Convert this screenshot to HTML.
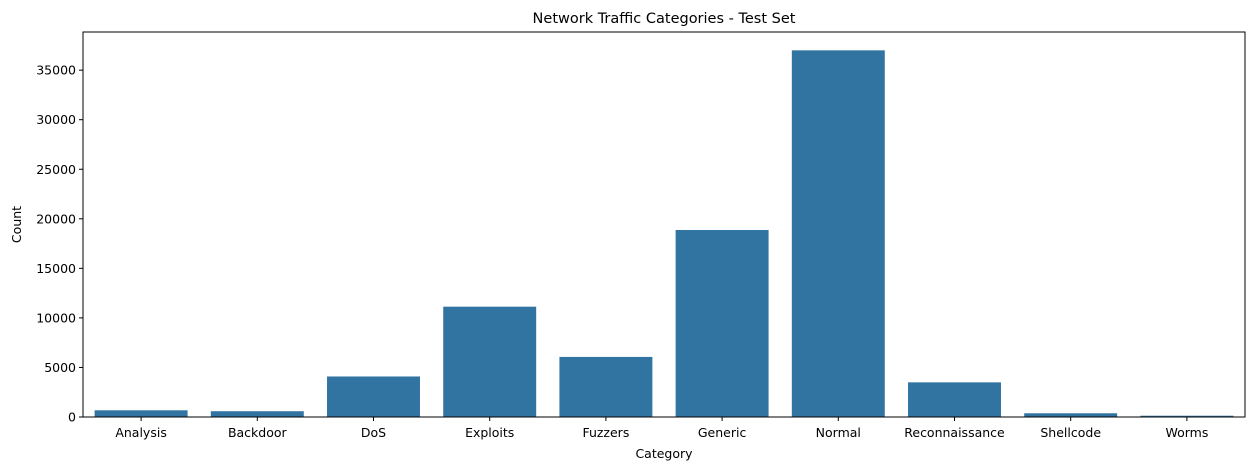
<!DOCTYPE html>
<html><head><meta charset="utf-8">
<style>
body{margin:0;background:#fff;}
svg text{font-family:"DejaVu Sans","Liberation Sans",sans-serif;fill:#000;}
</style></head>
<body>
<svg id="chart" width="1255" height="470" xmlns="http://www.w3.org/2000/svg">
<text x="664" y="23" font-size="14.5" text-anchor="middle">Network Traffic Categories - Test Set</text>
<g id="bars"></g>
<g id="axes"></g>
<text x="664" y="458" font-size="12.5" text-anchor="middle">Category</text>
<text transform="translate(21,224.5) rotate(-90)" font-size="12.5" text-anchor="middle">Count</text>
</svg>
<script>
const categories=["Analysis","Backdoor","DoS","Exploits","Fuzzers","Generic","Normal","Reconnaissance","Shellcode","Worms"];
const counts=[677,583,4089,11132,6062,18871,37000,3496,378,130];
const yTicks=[0,5000,10000,15000,20000,25000,30000,35000];
const L=83,R=1245,T=32,B=417;
const ymax=Math.max(...counts)*1.05;
const ns="http://www.w3.org/2000/svg";
const step=(R-L)/categories.length;
function xc(i){return L+step*(i+0.5);}
function y(v){return B-(v/ymax)*(B-T);}
function mk(tag,attrs,parent){const e=document.createElementNS(ns,tag);for(const k in attrs)e.setAttribute(k,attrs[k]);parent.appendChild(e);return e;}
const bars=document.getElementById('bars'),axes=document.getElementById('axes');
counts.forEach((v,i)=>{
  const r=mk('rect',{x:xc(i)-step*0.4,y:y(v),width:step*0.8,height:B-y(v),fill:'#3274a1'},bars);
  
  
});
const frame=mk('rect',{x:L,y:T,width:R-L,height:B-T,fill:'none',stroke:'#000','stroke-width':1},axes);


yTicks.forEach(t=>{
  const yy=y(t);
  mk('line',{x1:L-4,x2:L,y1:yy,y2:yy,stroke:'#000'},axes);
  const tx=mk('text',{x:L-7,y:yy+4.5,'font-size':12.5,'text-anchor':'end'},axes);
  tx.textContent=t;
  
  
});
categories.forEach((c,i)=>{
  const xx=xc(i);
  mk('line',{x1:xx,x2:xx,y1:B,y2:B+4,stroke:'#000'},axes);
  const tx=mk('text',{x:xx,y:B+20,'font-size':12.5,'text-anchor':'middle'},axes);
  tx.textContent=c;
  
  
});
</script>
</body></html>
